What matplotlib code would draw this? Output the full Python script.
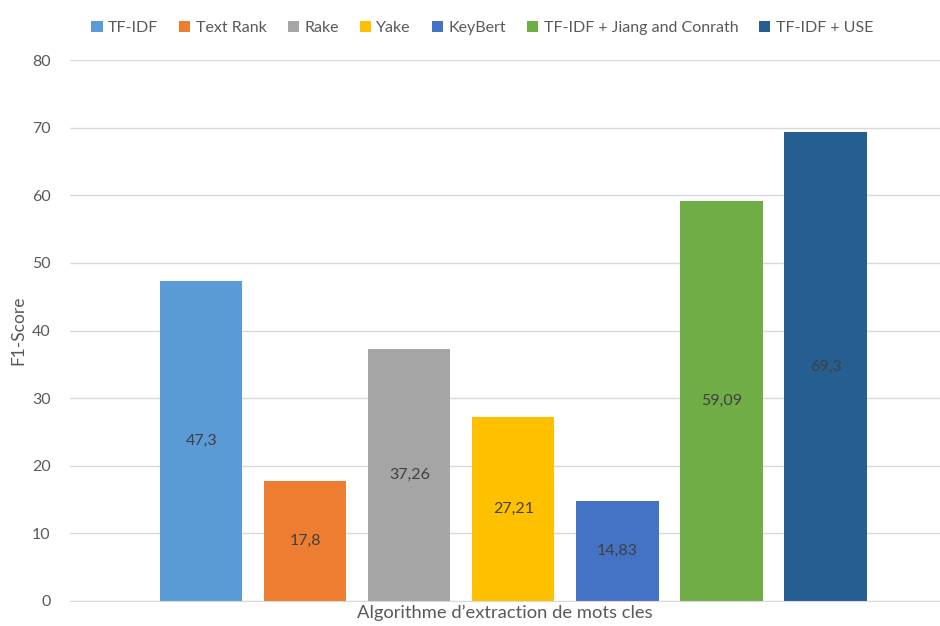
import matplotlib.pyplot as plt

plt.rcParams['font.family'] = ['Lato', 'DejaVu Sans']

# F1-score per keyword extraction method
methods = ["TF-IDF", "Text Rank", "Rake", "Yake", "KeyBert",
           "TF-IDF + Jiang and Conrath", "TF-IDF + USE"]
scores = [47.3, 17.8, 37.26, 27.21, 14.83, 59.09, 69.3]
score_labels = ["47,3", "17,8", "37,26", "27,21", "14,83", "59,09", "69,3"]
colors = ["#5B9BD5", "#ED7D31", "#A5A5A5", "#FFC000", "#4472C4", "#70AD47", "#255E91"]

text_col = "#595959"

fig = plt.figure(figsize=(9.4, 6.26), dpi=100)
ax = fig.add_axes([0.0745, 0.04, 0.9255, 0.864])

for i, (m, s, lab, c) in enumerate(zip(methods, scores, score_labels, colors)):
    ax.bar(i, s, width=0.79, color=c, label=m, zorder=2)
    ax.text(i, s / 2, lab, ha="center", va="center", fontsize=11.5, color="#404040", zorder=3)

ax.set_ylim(0, 80)
ax.set_yticks(range(0, 81, 10))
ax.set_xlim(-1.26, 7.1)
ax.set_xticks([])
ax.yaxis.grid(True, color="#D9D9D9", linewidth=1, zorder=0)
ax.tick_params(axis="y", length=0, labelsize=11.5, labelcolor=text_col, pad=14)

for side in ["top", "right", "left"]:
    ax.spines[side].set_visible(False)
ax.spines["bottom"].set_color("#D9D9D9")
ax.spines["bottom"].set_zorder(3)

ax.set_xlabel("Algorithme d\u2019extraction de mots cles", fontsize=13.2, color=text_col, labelpad=3)
ax.set_ylabel("F1-Score", fontsize=12.5, color=text_col)
ax.yaxis.set_label_coords(-0.05, 0.5)

fig.legend(loc="upper left", bbox_to_anchor=(0.082, 0.99), ncol=7, frameon=False,
           fontsize=11.5, labelcolor=text_col, handlelength=0.7, handleheight=0.7,
           handletextpad=0.35, columnspacing=1.3)

fig.savefig("out.png", dpi=100)
